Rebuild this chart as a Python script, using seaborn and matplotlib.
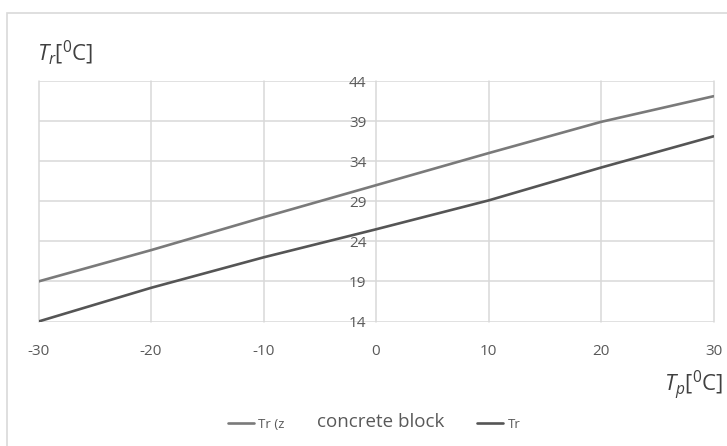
import numpy as np
import pandas as pd
import matplotlib
matplotlib.use("Agg")
import matplotlib.pyplot as plt
import seaborn as sns
from matplotlib.patches import Rectangle
from matplotlib.lines import Line2D

# values
tp = [-30, -20, -10, 0, 10, 20, 30]
tr_z = [19.0, 22.9, 27.0, 31.0, 35.0, 38.9, 42.1]
tr = [14.0, 18.2, 22.0, 25.5, 29.1, 33.2, 37.1]
x_ticks = [-30, -20, -10, 0, 10, 20, 30]
y_ticks = [14, 19, 24, 29, 34, 39, 44]

sns.set_style("white")
plt.rcParams["font.family"] = ["Open Sans", "DejaVu Sans"]
plt.rcParams["axes.unicode_minus"] = False
plt.rcParams["mathtext.fontset"] = "custom"
plt.rcParams["mathtext.it"] = "Open Sans:italic"
plt.rcParams["mathtext.rm"] = "Open Sans"

grid_c = "#d9d9d9"
text_c = "#595959"

fig = plt.figure(figsize=(7.27, 4.46), dpi=100)
ax = fig.add_axes([38.5 / 727, 1 - 321.5 / 446, (713 - 38) / 727, (321 - 80.5) / 446])

df = pd.DataFrame({"tp": tp, "tr_z": tr_z, "tr": tr})
sns.lineplot(data=df, x="tp", y="tr_z", ax=ax, color="#7a7a7a", linewidth=1.9)
sns.lineplot(data=df, x="tp", y="tr", ax=ax, color="#555555", linewidth=1.9)

ax.set_xlim(-30, 30)
ax.set_ylim(14, 44)
ax.set_xticks(x_ticks)
ax.set_yticks(y_ticks)
ax.grid(True, color=grid_c, linewidth=1.1)
for gl in ax.get_xgridlines() + ax.get_ygridlines():
    gl.set_clip_on(False)
ax.set_axisbelow(True)
for s in ax.spines.values():
    s.set_visible(False)
# y tick labels sit on the x=0 line, like the original
ax.spines["left"].set_position(("data", 0))
ax.tick_params(axis="both", length=0, labelsize=11, labelcolor=text_c)
ax.tick_params(axis="x", pad=16)
ax.tick_params(axis="y", pad=7)
ax.set_xlabel("")
ax.set_ylabel("")

fig.text(37 / 727, 1 - 53 / 446, r"$T_r$[$^0$C]", fontsize=16, color="#404040",
         va="center", ha="left")
fig.text(723 / 727, 1 - 385 / 446, r"$T_p$[$^0$C]", fontsize=16, color="#404040",
         va="center", ha="right")

# legend row at the bottom
handles = [Line2D([], [], color="#7a7a7a", linewidth=1.9),
           Line2D([], [], color="#555555", linewidth=1.9)]
fig.legend(handles, ["Tr (z", "Tr"], loc="center", bbox_to_anchor=(374 / 727, 1 - 424 / 446),
           ncol=2, frameon=False, fontsize=9.5, labelcolor=text_c, handlelength=2.0,
           handletextpad=0.3, columnspacing=14.6)
fig.text(381 / 727, 1 - 422 / 446, "concrete block", fontsize=13.5, color=text_c,
         ha="center", va="center")

# outer chart frame, cut off at right and bottom
fig.patches.append(Rectangle((7 / 727, -0.2), 1.5, 1.2 - 13 / 446, transform=fig.transFigure,
                             fill=False, edgecolor=grid_c, linewidth=1.2))

fig.savefig("out.png", dpi=100)
